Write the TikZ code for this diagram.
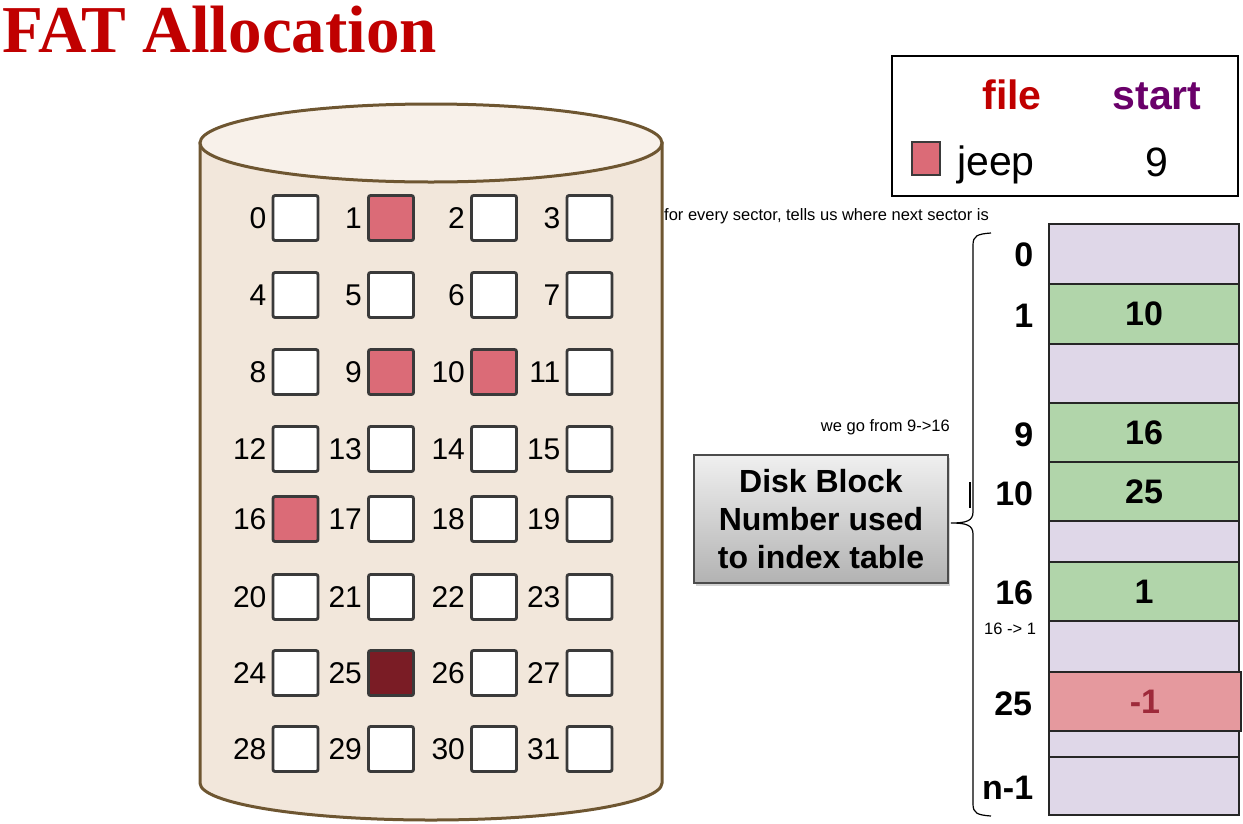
\documentclass[tikz,border=0pt]{standalone}
\usepackage{fontspec}
\setmainfont{Liberation Sans}
\newfontfamily\titlefont{Liberation Serif}
\usetikzlibrary{shadows,calc}
\definecolor{titlered}{HTML}{C00000}
\definecolor{startpurple}{HTML}{6A006A}
\definecolor{cylbody}{HTML}{F2E7DB}
\definecolor{cyltop}{HTML}{F8F1EA}
\definecolor{cylborder}{HTML}{6E5631}
\definecolor{pinkc}{HTML}{DB6B77}
\definecolor{darkc}{HTML}{7A1C25}
\definecolor{boxborder}{HTML}{3A3A3A}
\definecolor{lav}{HTML}{DFD7E8}
\definecolor{grn}{HTML}{B1D5AA}
\definecolor{tpink}{HTML}{E5999E}
\definecolor{minusred}{HTML}{9E2A3A}
\tikzset{
  sq/.style={draw=boxborder, line width=2.8pt, rounded corners=2pt, minimum size=45pt, inner sep=0pt},
  numlbl/.style={font=\fontsize{30}{32}\selectfont, inner sep=0pt},
  trow/.style={draw=black!85, line width=1.3pt, minimum width=190pt, inner sep=0pt, font=\bfseries\fontsize{34}{38}\selectfont},
  rowlbl/.style={font=\bfseries\fontsize{34}{38}\selectfont, inner sep=0pt, anchor=east},
  note/.style={font=\fontsize{16.5}{18}\selectfont, inner sep=0pt}
}
\begin{document}
\begin{tikzpicture}[x=1pt,y=-1pt]
\useasboundingbox (0,0) rectangle (1243,823);
% title
\node[anchor=base west, inner sep=0pt, text=titlered, font=\titlefont\bfseries\fontsize{67}{72}\selectfont] (title) at (2,52) {FAT Allocation};
% cylinder
\draw[cylborder, line width=3pt, fill=cylbody] (200,143) -- (200,783) arc[start angle=180, end angle=360, x radius=231pt, y radius=37pt] -- (662,143) -- cycle;
\draw[cylborder, line width=3pt, fill=cyltop] (431,143) ellipse[x radius=231pt, y radius=39pt];
% blocks
\foreach \y [count=\r from 0] in {218,295,372,449,519,597,673,749} {
  \foreach \x [count=\c from 0] in {295.5,391,494,589.5} {
    \pgfmathtruncatemacro\n{4*\r+\c}
    \def\fc{white}
    \ifnum\n=1 \def\fc{pinkc}\fi
    \ifnum\n=9 \def\fc{pinkc}\fi
    \ifnum\n=10 \def\fc{pinkc}\fi
    \ifnum\n=16 \def\fc{pinkc}\fi
    \ifnum\n=25 \def\fc{darkc}\fi
    \node[sq, fill=\fc] (b\n) at (\x,\y) {};
    \node[numlbl, anchor=east] (l\n) at ($(b\n.west)+(-5,0)$) {\n};
  }
}
% legend
\node[draw=black, line width=2.5pt, minimum width=346pt, minimum height=140pt, inner sep=0pt] (legend) at (1065,126) {};
\node[anchor=base, inner sep=0pt, text=titlered, font=\bfseries\fontsize{41}{44}\selectfont] (filehdr) at (1012,109) {file};
\node[anchor=base, inner sep=0pt, text=startpurple, font=\bfseries\fontsize{41}{44}\selectfont] (starthdr) at (1157,109) {start};
\node[draw=boxborder, line width=2pt, fill=pinkc, minimum width=28pt, minimum height=33pt, inner sep=0pt] (legsq) at (926,158.5) {};
\node[anchor=base west, inner sep=0pt, font=\fontsize{41}{44}\selectfont] (jeep) at (957,175) {jeep};
\node[anchor=base, inner sep=0pt, font=\fontsize{41}{44}\selectfont] (nine) at (1157,176) {9};
% notes
\node[note, anchor=west] (n1) at (664,216) {for every sector, tells us where next sector is};
\node[note, anchor=east] (n2) at (950,427) {we go from 9->16};
\node[note, anchor=west] (n3) at (984,629) {16 -> 1};
% disk block box
\node[draw=black!70, line width=1.2pt, top color=black!6, bottom color=black!30, minimum width=254pt, minimum height=128pt, inner sep=0pt, align=center, drop shadow={shadow xshift=2pt, shadow yshift=-3pt, opacity=0.35}, font=\bfseries\fontsize{32}{38}\selectfont] (disk) at (821,519) {Disk Block\\Number used\\to index table};
% table
\node[trow, fill=lav, minimum height=60pt] (t0) at (1144,254) {};
\node[trow, fill=grn, minimum height=60pt] (t1) at (1144,314) {10};
\node[trow, fill=lav, minimum height=59pt] (ta) at (1144,373.5) {};
\node[trow, fill=grn, minimum height=59pt] (t9) at (1144,432.5) {16};
\node[trow, fill=grn, minimum height=59pt] (t10) at (1144,491.5) {25};
\node[trow, fill=lav, minimum height=41pt] (tb) at (1144,541.5) {};
\node[trow, fill=grn, minimum height=59pt] (t16) at (1144,591.5) {1};
\node[trow, fill=lav, minimum height=51pt] (tc) at (1144,646.5) {};
\node[trow, fill=tpink, minimum height=59pt, minimum width=192pt, text=minusred] (t25) at (1145,701.5) {-1};
\node[trow, fill=lav, minimum height=26pt] (td) at (1144,744) {};
\node[trow, fill=lav, minimum height=58pt] (tn) at (1144,786) {};
% row labels
\node[rowlbl] (r0) at ($(t0.west)+(-15,1)$) {0};
\node[rowlbl] (r1) at ($(t1.west)+(-15,2)$) {1};
\node[rowlbl] (r9) at ($(t9.west)+(-15,2)$) {9};
\node[rowlbl] (r10) at ($(t10.west)+(-15,2)$) {10};
\node[rowlbl] (r16) at ($(t16.west)+(-15,1)$) {16};
\node[rowlbl] (r25) at ($(t25.west)+(-16,2)$) {25};
\node[rowlbl] (rn) at ($(tn.west)+(-15,2)$) {n-1};
% brace
\coordinate (cusp) at (951,523);
\draw[line width=1.2pt, black] (991,233) .. controls (977,234) and (973,236) .. (973,245) -- (973,512) .. controls (973,521) and (966,523) .. (cusp) .. controls (966,523) and (973,525) .. (973,534) -- (973,804) .. controls (973,813) and (977,815) .. (991,816);
\draw[line width=1.8pt] (970,482) -- (970,508);
\end{tikzpicture}
\end{document}
